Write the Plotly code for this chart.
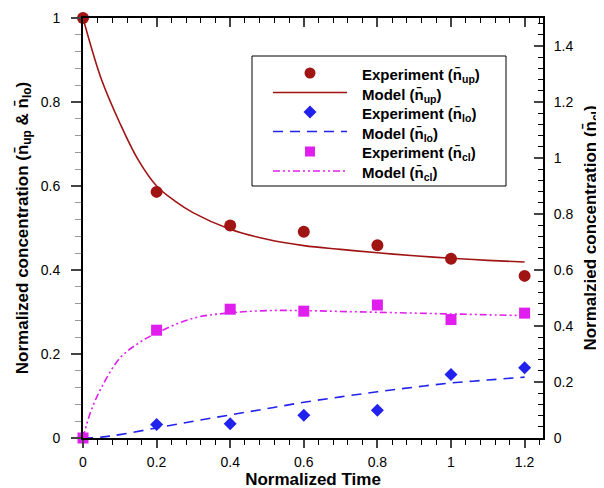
import plotly.graph_objects as go

# ---- data ----
time_exp = [0, 0.2, 0.4, 0.6, 0.8, 1.0, 1.2]
exp_up = [1.0, 0.586, 0.506, 0.491, 0.459, 0.427, 0.386]
exp_lo = [0.0, 0.032, 0.034, 0.054, 0.066, 0.151, 0.167]
exp_cl = [0.0, 0.385, 0.460, 0.453, 0.475, 0.423, 0.446]   # right axis scale

time_up_model = [0, 0.05, 0.1, 0.15, 0.2, 0.25, 0.3, 0.4, 0.5, 0.6, 0.7, 0.8, 0.9, 1.0, 1.1, 1.2]
model_up = [1.0, 0.854, 0.75, 0.662, 0.60, 0.564, 0.536, 0.497, 0.473, 0.458, 0.449, 0.441, 0.434, 0.428, 0.423, 0.419]

time_lo_model = [0, 0.05, 0.1, 0.2, 0.3, 0.4, 0.5, 0.6, 0.7, 0.8, 0.9, 1.0, 1.1, 1.2]
model_lo = [0.0, 0.002, 0.008, 0.024, 0.040, 0.055, 0.070, 0.085, 0.098, 0.110, 0.121, 0.131, 0.138, 0.145]

time_cl_model = [0, 0.02, 0.05, 0.1, 0.15, 0.2, 0.3, 0.4, 0.5, 0.6, 0.7, 0.8, 0.9, 1.0, 1.1, 1.2]
model_cl = [0.0, 0.09, 0.18, 0.285, 0.338, 0.375, 0.428, 0.447, 0.455, 0.455, 0.452, 0.449, 0.446, 0.443, 0.440, 0.437]

x_ticks = [0, 0.2, 0.4, 0.6, 0.8, 1, 1.2]

NB = "n\u0304"
series_names = [
    f"Experiment ({NB}<sub>up</sub>)", f"Model ({NB}<sub>up</sub>)",
    f"Experiment ({NB}<sub>lo</sub>)", f"Model ({NB}<sub>lo</sub>)",
    f"Experiment ({NB}<sub>cl</sub>)", f"Model ({NB}<sub>cl</sub>)",
]

C_UP = "#A01414"
C_LO = "#2222EE"
C_CL = "#E01EEE"
DASH_LO = "10px,7px"
DASH_CL = "7px,3px,2px,3px,2px,3px"

fig = go.Figure()

fig.add_trace(go.Scatter(x=time_exp, y=exp_up, mode="markers", cliponaxis=False,
                         marker=dict(symbol="circle", size=12, color=C_UP),
                         name=series_names[0], showlegend=False))
fig.add_trace(go.Scatter(x=time_up_model, y=model_up, mode="lines", line_shape="spline",
                         line=dict(color=C_UP, width=1.6),
                         name=series_names[1], showlegend=False))
fig.add_trace(go.Scatter(x=time_exp, y=exp_lo, mode="markers", cliponaxis=False,
                         marker=dict(symbol="diamond", size=10, color=C_LO),
                         name=series_names[2], showlegend=False))
fig.add_trace(go.Scatter(x=time_lo_model, y=model_lo, mode="lines", line_shape="spline",
                         line=dict(color=C_LO, width=1.6, dash=DASH_LO),
                         name=series_names[3], showlegend=False))
fig.add_trace(go.Scatter(x=time_exp, y=exp_cl, mode="markers", cliponaxis=False, yaxis="y2",
                         marker=dict(symbol="square", size=11, color=C_CL),
                         name=series_names[4], showlegend=False))
fig.add_trace(go.Scatter(x=time_cl_model, y=model_cl, mode="lines", line_shape="spline", yaxis="y2",
                         line=dict(color=C_CL, width=1.6, dash=DASH_CL),
                         name=series_names[5], showlegend=False))
# invisible trace to activate the top axis
fig.add_trace(go.Scatter(x=[0], y=[0], xaxis="x2", mode="markers", marker=dict(opacity=0),
                         showlegend=False, hoverinfo="skip"))

# ---- layout geometry (pixels) ----
W, H = 604, 488
ML, MR, MT, MB = 75, 69, 10, 58
PW, PH = W - ML - MR, H - MT - MB


def px(xp):
    return (xp - ML) / PW


def py(yp):
    return (H - MB - yp) / PH


XR = [0, 1.25]
FAM = "Liberation Sans, Arial"
font_ticks = dict(family=FAM, size=14, color="black")
font_title = dict(family=FAM, size=17, color="black")

# ---- custom legend (box, samples, labels) ----
shapes = []
annotations = []
box = dict(l=244, r=498, t=48, b=178)
shapes.append(dict(type="rect", xref="paper", yref="paper",
                   x0=px(box["l"]), x1=px(box["r"]), y0=py(box["b"]), y1=py(box["t"]),
                   line=dict(color="black", width=1), fillcolor="white", layer="above"))
row_y = [65, 84.5, 104, 123.5, 143.5, 163]
sym_x = 302
line_x = (265, 339)
text_x = 352
legend_styles = [
    ("circle", C_UP, None), ("line", C_UP, "solid"),
    ("diamond", C_LO, None), ("line", C_LO, DASH_LO),
    ("square", C_CL, None), ("line", C_CL, DASH_CL),
]
for (kind, col, dash), yrow, label in zip(legend_styles, row_y, series_names):
    if kind == "line":
        shapes.append(dict(type="line", xref="paper", yref="paper",
                           x0=px(line_x[0]), x1=px(line_x[1]), y0=py(yrow), y1=py(yrow),
                           line=dict(color=col, width=1.6, dash=dash), layer="above"))
    elif kind == "circle":
        r = 5.5
        shapes.append(dict(type="circle", xref="paper", yref="paper",
                           x0=px(sym_x - r), x1=px(sym_x + r), y0=py(yrow + r), y1=py(yrow - r),
                           line=dict(width=0), fillcolor=col, layer="above"))
    elif kind == "square":
        r = 5
        shapes.append(dict(type="rect", xref="paper", yref="paper",
                           x0=px(sym_x - r), x1=px(sym_x + r), y0=py(yrow + r), y1=py(yrow - r),
                           line=dict(width=0), fillcolor=col, layer="above"))
    elif kind == "diamond":
        r = 6.5
        path = (f"M {px(sym_x - r)},{py(yrow)} L {px(sym_x)},{py(yrow - r)} "
                f"L {px(sym_x + r)},{py(yrow)} L {px(sym_x)},{py(yrow + r)} Z")
        shapes.append(dict(type="path", xref="paper", yref="paper", path=path,
                           line=dict(width=0), fillcolor=col, layer="above"))
    annotations.append(dict(text=f"<b>{label}</b>", xref="paper", yref="paper",
                            x=px(text_x), y=py(yrow + 2.5), xanchor="left", yanchor="middle",
                            showarrow=False, font=dict(family=FAM, size=15, color="black")))

fig.update_layout(
    width=W, height=H,
    margin=dict(l=ML, r=MR, t=MT, b=MB),
    paper_bgcolor="white", plot_bgcolor="white",
    font=dict(family=FAM, color="black"),
    xaxis=dict(range=XR, tickvals=x_ticks, ticks="outside", ticklen=8, tickwidth=2,
               showline=True, linewidth=2, linecolor="black", showgrid=False, zeroline=False,
               tickfont=font_ticks, automargin=False, ticklabelstandoff=2,
               minor=dict(dtick=0.04, tick0=0, ticks="outside", ticklen=5, tickwidth=1, tickcolor="black"),
               title=dict(text="<b>Normalized Time</b>", font=font_title, standoff=4)),
    xaxis2=dict(range=XR, overlaying="x", side="top", tickvals=x_ticks, showticklabels=False,
                ticks="inside", ticklen=9, tickwidth=2, showline=True, linewidth=2, linecolor="black",
                showgrid=False, zeroline=False, automargin=False,
                minor=dict(dtick=0.04, tick0=0, ticks="inside", ticklen=5, tickwidth=1, tickcolor="black")),
    yaxis=dict(range=[0, 1], dtick=0.2, ticks="outside", ticklen=10, tickwidth=2,
               showline=True, linewidth=2, linecolor="black", showgrid=False, zeroline=False,
               tickfont=font_ticks, ticklabelstandoff=8, automargin=False,
               minor=dict(dtick=0.04, tick0=0, ticks="outside", ticklen=6, tickwidth=1, tickcolor="#999"),
               title=dict(text=f"<b>Normalized concentration ({NB}<sub>up</sub> & {NB}<sub>lo</sub>)</b>",
                          font=font_title, standoff=8)),
    yaxis2=dict(range=[0, 1.5], dtick=0.2, overlaying="y", side="right", ticks="inside",
                ticklen=9, tickwidth=2, showline=True, linewidth=2, linecolor="black",
                showgrid=False, zeroline=False, tickfont=font_ticks, ticklabelstandoff=6,
                automargin=False,
                minor=dict(dtick=0.04, tick0=0, ticks="inside", ticklen=5, tickwidth=1, tickcolor="black"),
                title=dict(text=f"<b>Normalzied concentration ({NB}<sub>cl</sub>)</b>",
                           font=font_title, standoff=12)),
    shapes=shapes,
    annotations=annotations,
    showlegend=False,
)

fig.write_html("out.html")
